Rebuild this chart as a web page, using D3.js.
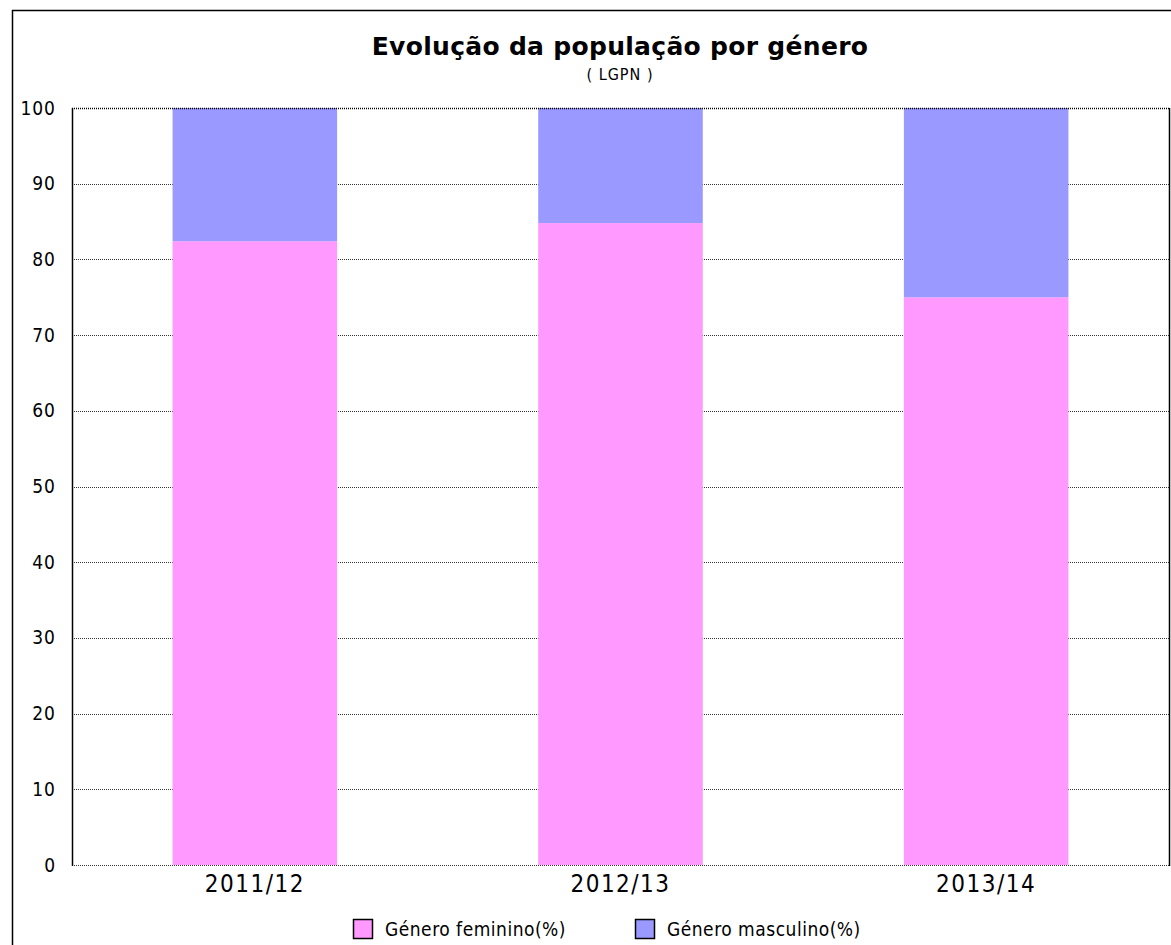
<!DOCTYPE html>
<html>
<head>
<meta charset="utf-8">
<script src="https://cdn.jsdelivr.net/npm/d3@7"></script>
<style>
  body { margin: 0; background: #fff; }
  svg { display: block; }
</style>
</head>
<body>
<div id="chart"></div>
<script>
const categories = ["2011/12", "2012/13", "2013/14"];
const feminino = [82.4, 84.8, 75.0];
const masculino = [17.6, 15.2, 25.0];
const seriesNames = ["Género feminino(%)", "Género masculino(%)"];
const seriesColors = ["#ff99ff", "#9999ff"];
const yTicks = [0, 10, 20, 30, 40, 50, 60, 70, 80, 90, 100];

const W = 1171, H = 945;
const margin = { left: 72, right: 2, top: 108, bottom: 80 };
const font = "'DejaVu Sans', Verdana, sans-serif";
const condensed = "'DejaVu Sans Condensed', 'DejaVu Sans', sans-serif";

const svg = d3.select("#chart").append("svg")
  .attr("width", W).attr("height", H);

// outer frame
svg.append("rect")
  .attr("x", 12.5).attr("y", 10.5)
  .attr("width", W + 20).attr("height", H + 20)
  .attr("fill", "none").attr("stroke", "#000").attr("stroke-width", 1.5);

// title
svg.append("text")
  .attr("x", 620).attr("y", 55)
  .attr("text-anchor", "middle")
  .style("font-family", font).style("font-size", "25px").style("font-weight", "bold")
  .style("letter-spacing", "0.3px")
  .text("Evolução da população por género");
svg.append("text")
  .attr("x", 620).attr("y", 80)
  .attr("text-anchor", "middle")
  .style("font-family", condensed).style("font-size", "16px")
  .style("letter-spacing", "1px")
  .text("( LGPN )");

const x = d3.scaleBand().domain(categories)
  .range([margin.left, W - margin.right]).paddingInner(0.55).paddingOuter(0.275);
const y = d3.scaleLinear().domain([0, 100]).range([H - margin.bottom, margin.top]);

// gridlines
svg.append("g").selectAll("line").data(yTicks).join("line")
  .attr("x1", margin.left).attr("x2", W - margin.right)
  .attr("y1", d => Math.round(y(d)) + 0.5).attr("y2", d => Math.round(y(d)) + 0.5)
  .attr("stroke", "#333").attr("stroke-width", 1)
  .attr("stroke-dasharray", "1,1");

// stacked bars
const rows = categories.map((c, i) => ({ cat: c, fem: feminino[i], masc: masculino[i] }));
const stack = d3.stack().keys(["fem", "masc"])(rows);
svg.append("g").selectAll("g").data(stack).join("g")
  .attr("fill", (d, i) => seriesColors[i])
  .selectAll("rect").data(d => d).join("rect")
  .attr("x", d => x(d.data.cat))
  .attr("width", x.bandwidth())
  .attr("y", d => y(d[1]))
  .attr("height", d => y(d[0]) - y(d[1]));

// axes frame lines
svg.append("line")
  .attr("x1", margin.left + 0.5).attr("x2", margin.left + 0.5)
  .attr("y1", y(100)).attr("y2", y(0) + 1)
  .attr("stroke", "#000").attr("stroke-width", 1.5);
svg.append("line")
  .attr("x1", W - margin.right + 0.5).attr("x2", W - margin.right + 0.5)
  .attr("y1", y(100)).attr("y2", y(0) + 1)
  .attr("stroke", "#000").attr("stroke-width", 1.5);
svg.append("line")
  .attr("x1", margin.left).attr("x2", W - margin.right)
  .attr("y1", Math.round(y(100)) + 0.5).attr("y2", Math.round(y(100)) + 0.5)
  .attr("stroke", "#000").attr("stroke-width", 1.5).attr("stroke-dasharray", "1,1");

// y axis labels
const yAxis = d3.axisLeft(y).tickValues(yTicks).tickSize(0).tickPadding(16);
const gy = svg.append("g").attr("transform", `translate(${margin.left},0)`).call(yAxis);
gy.select(".domain").remove();
gy.selectAll("text").style("font-family", condensed).style("font-size", "19px")
  .style("letter-spacing", "1px").attr("fill", "#000");

// x axis labels
const xAxis = d3.axisBottom(x).tickSize(0).tickPadding(10);
const gx = svg.append("g").attr("transform", `translate(0,${y(0)})`).call(xAxis);
gx.select(".domain").remove();
gx.selectAll("text").style("font-family", condensed).style("font-size", "24px")
  .style("letter-spacing", "1.5px").attr("fill", "#000");

// legend
const legendX = [353, 635];
const lg = svg.append("g").selectAll("g").data(seriesNames).join("g")
  .attr("transform", (d, i) => `translate(${legendX[i]},919)`);
lg.append("rect")
  .attr("x", 0.5).attr("y", 0.5).attr("width", 19).attr("height", 19)
  .attr("fill", (d, i) => seriesColors[i]).attr("stroke", "#000").attr("stroke-width", 1.5);
lg.append("text")
  .attr("x", 32).attr("y", 17)
  .style("font-family", condensed).style("font-size", "19px")
  .style("letter-spacing", "0.5px")
  .text(d => d);
</script>
</body>
</html>
